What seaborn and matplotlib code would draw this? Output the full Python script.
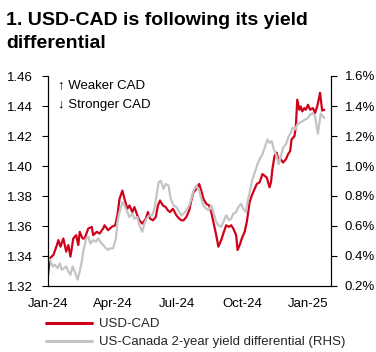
import matplotlib
matplotlib.use("Agg")
import matplotlib.pyplot as plt
import matplotlib.dates as mdates
from matplotlib.ticker import FuncFormatter
from matplotlib.lines import Line2D
import seaborn as sns
import pandas as pd

sns.set_style("white")
plt.rcParams['font.family'] = ['Liberation Sans', 'DejaVu Sans']

TITLE_1 = "1. USD-CAD is following its yield"
TITLE_2 = "differential"
FX_LABEL = "USD-CAD"
YD_LABEL = "US-Canada 2-year yield differential (RHS)"
NOTE_UP = "\u2191 Weaker CAD"
NOTE_DOWN = "\u2193 Stronger CAD"

fx_dates = ["2024-01-01", "2024-01-04", "2024-01-09", "2024-01-14", "2024-01-16", "2024-01-19",
            "2024-01-23", "2024-01-27", "2024-01-30", "2024-02-02", "2024-02-06", "2024-02-10",
            "2024-02-13", "2024-02-15", "2024-02-19", "2024-02-22", "2024-02-27", "2024-03-03",
            "2024-03-05", "2024-03-10", "2024-03-14", "2024-03-19", "2024-03-21", "2024-03-26",
            "2024-03-31", "2024-04-05", "2024-04-08", "2024-04-11", "2024-04-15", "2024-04-18",
            "2024-04-22", "2024-04-25", "2024-04-29", "2024-05-02", "2024-05-06", "2024-05-09",
            "2024-05-13", "2024-05-18", "2024-05-21", "2024-05-24", "2024-05-28", "2024-06-01",
            "2024-06-04", "2024-06-07", "2024-06-11", "2024-06-15", "2024-06-18", "2024-06-21",
            "2024-06-25", "2024-06-30", "2024-07-04", "2024-07-07", "2024-07-10", "2024-07-14",
            "2024-07-18", "2024-07-21", "2024-07-24", "2024-07-28", "2024-08-01", "2024-08-04",
            "2024-08-07", "2024-08-11", "2024-08-15", "2024-08-18", "2024-08-21", "2024-08-25",
            "2024-08-28", "2024-09-01", "2024-09-04", "2024-09-08", "2024-09-12", "2024-09-15",
            "2024-09-18", "2024-09-22", "2024-09-24", "2024-09-27", "2024-09-30", "2024-10-04",
            "2024-10-07", "2024-10-11", "2024-10-14", "2024-10-18", "2024-10-21", "2024-10-25",
            "2024-10-29", "2024-11-01", "2024-11-04", "2024-11-08", "2024-11-10", "2024-11-12",
            "2024-11-15", "2024-11-18", "2024-11-21", "2024-11-24", "2024-11-27", "2024-12-01",
            "2024-12-04", "2024-12-07", "2024-12-09", "2024-12-13", "2024-12-15", "2024-12-17",
            "2024-12-20", "2024-12-22", "2024-12-24", "2024-12-27", "2024-12-29", "2025-01-01",
            "2025-01-04", "2025-01-08", "2025-01-11", "2025-01-14", "2025-01-17", "2025-01-18",
            "2025-01-21", "2025-01-24"]
fx_values = [1.3253, 1.3385, 1.3407, 1.3473, 1.3506, 1.3462,
             1.3517, 1.3429, 1.3473, 1.3396, 1.3517, 1.3539,
             1.3473, 1.3561, 1.3517, 1.3517, 1.3583, 1.3594,
             1.3539, 1.3561, 1.3550, 1.3583, 1.3605, 1.3572,
             1.3594, 1.3605, 1.3671, 1.3781, 1.3836, 1.3781,
             1.3715, 1.3737, 1.3693, 1.3726, 1.3671, 1.3638,
             1.3616, 1.3649, 1.3693, 1.3649, 1.3638, 1.3660,
             1.3737, 1.3770, 1.3737, 1.3726, 1.3704, 1.3693,
             1.3715, 1.3671, 1.3649, 1.3638, 1.3638, 1.3660,
             1.3704, 1.3770, 1.3825, 1.3847, 1.3880, 1.3836,
             1.3781, 1.3748, 1.3737, 1.3693, 1.3627, 1.3539,
             1.3462, 1.3506, 1.3550, 1.3605, 1.3594, 1.3605,
             1.3583, 1.3539, 1.3440, 1.3473, 1.3517, 1.3561,
             1.3627, 1.3759, 1.3803, 1.3847, 1.3880, 1.3891,
             1.3946, 1.3935, 1.3924, 1.3858, 1.3891, 1.3979,
             1.4067, 1.4089, 1.4034, 1.4045, 1.4023, 1.4045,
             1.4078, 1.4100, 1.4177, 1.4199, 1.4265, 1.4442,
             1.4375, 1.4397, 1.4364, 1.4386, 1.4375, 1.4408,
             1.4375, 1.4386, 1.4353, 1.4397, 1.4463, 1.4488,
             1.4370, 1.4375]

yd_dates = ["2024-01-01", "2024-01-04", "2024-01-08", "2024-01-11", "2024-01-15", "2024-01-18",
            "2024-01-21", "2024-01-24", "2024-01-27", "2024-01-30", "2024-02-02", "2024-02-05",
            "2024-02-08", "2024-02-12", "2024-02-15", "2024-02-18", "2024-02-20", "2024-02-24",
            "2024-02-27", "2024-03-01", "2024-03-05", "2024-03-09", "2024-03-12", "2024-03-15",
            "2024-03-19", "2024-03-23", "2024-03-26", "2024-03-29", "2024-04-02", "2024-04-06",
            "2024-04-08", "2024-04-11", "2024-04-15", "2024-04-18", "2024-04-22", "2024-04-25",
            "2024-04-29", "2024-05-02", "2024-05-06", "2024-05-09", "2024-05-13", "2024-05-16",
            "2024-05-19", "2024-05-23", "2024-05-27", "2024-05-30", "2024-06-02", "2024-06-05",
            "2024-06-08", "2024-06-12", "2024-06-15", "2024-06-19", "2024-06-22", "2024-06-26",
            "2024-06-30", "2024-07-04", "2024-07-07", "2024-07-10", "2024-07-14", "2024-07-18",
            "2024-07-21", "2024-07-24", "2024-07-28", "2024-08-01", "2024-08-04", "2024-08-07",
            "2024-08-11", "2024-08-15", "2024-08-18", "2024-08-21", "2024-08-25", "2024-08-28",
            "2024-09-01", "2024-09-04", "2024-09-08", "2024-09-12", "2024-09-15", "2024-09-18",
            "2024-09-22", "2024-09-25", "2024-09-29", "2024-10-02", "2024-10-06", "2024-10-08",
            "2024-10-11", "2024-10-15", "2024-10-19", "2024-10-22", "2024-10-25", "2024-10-29",
            "2024-11-02", "2024-11-05", "2024-11-08", "2024-11-11", "2024-11-14", "2024-11-18",
            "2024-11-21", "2024-11-24", "2024-11-27", "2024-12-01", "2024-12-05", "2024-12-08",
            "2024-12-10", "2024-12-14", "2024-12-17", "2024-12-20", "2024-12-24", "2024-12-28",
            "2025-01-01", "2025-01-04", "2025-01-08", "2025-01-11", "2025-01-15", "2025-01-19",
            "2025-01-24"]
yd_values = [0.385, 0.374, 0.330, 0.341, 0.319, 0.352,
             0.308, 0.319, 0.330, 0.297, 0.275, 0.330,
             0.297, 0.242, 0.297, 0.363, 0.429, 0.517,
             0.528, 0.484, 0.506, 0.495, 0.517, 0.495,
             0.473, 0.451, 0.440, 0.451, 0.451, 0.517,
             0.627, 0.693, 0.759, 0.737, 0.693, 0.660,
             0.682, 0.649, 0.660, 0.605, 0.561, 0.616,
             0.649, 0.671, 0.671, 0.715, 0.803, 0.891,
             0.902, 0.847, 0.880, 0.869, 0.781, 0.737,
             0.726, 0.693, 0.671, 0.682, 0.704, 0.737,
             0.781, 0.836, 0.869, 0.836, 0.781, 0.737,
             0.715, 0.704, 0.737, 0.693, 0.627, 0.605,
             0.594, 0.627, 0.671, 0.638, 0.649, 0.682,
             0.693, 0.726, 0.748, 0.715, 0.693, 0.759,
             0.825, 0.913, 0.968, 1.012, 1.045, 1.078,
             1.133, 1.177, 1.155, 1.166, 1.111, 1.067,
             1.012, 1.067, 1.122, 1.144, 1.199, 1.221,
             1.254, 1.243, 1.276, 1.287, 1.298, 1.309,
             1.320, 1.342, 1.353, 1.331, 1.215, 1.350,
             1.320]

left_ticks = [1.32, 1.34, 1.36, 1.38, 1.40, 1.42, 1.44, 1.46]
right_ticks = [0.2, 0.4, 0.6, 0.8, 1.0, 1.2, 1.4, 1.6]
x_start, x_end = "2024-01-01", "2025-02-02"

RED = "#d0021b"
GREY = "#c4c4c4"
W, H = 376, 352

fx = pd.DataFrame({"date": pd.to_datetime(fx_dates), "value": fx_values})
yd = pd.DataFrame({"date": pd.to_datetime(yd_dates), "value": yd_values})

fig = plt.figure(figsize=(W / 100, H / 100), dpi=100)
ax = fig.add_axes([47.7 / W, 1 - 286 / H, (330.7 - 47.7) / W, (286 - 76) / H])
ax2 = ax.twinx()

sns.lineplot(data=fx, x="date", y="value", ax=ax, color=RED, linewidth=1.6)
sns.lineplot(data=yd, x="date", y="value", ax=ax2, color=GREY, linewidth=1.6)

ax.set_xlim(pd.Timestamp(x_start), pd.Timestamp(x_end))
ax.set_ylim(left_ticks[0], left_ticks[-1])
ax2.set_ylim(right_ticks[0], right_ticks[-1])
ax.set_yticks(left_ticks)
ax2.set_yticks(right_ticks)
ax.yaxis.set_major_formatter(FuncFormatter(lambda v, p: f"{v:.2f}"))
ax2.yaxis.set_major_formatter(FuncFormatter(lambda v, p: f"{v:.1f}%"))

ax.xaxis.set_major_locator(mdates.MonthLocator(bymonth=[1, 4, 7, 10]))
ax.xaxis.set_minor_locator(mdates.MonthLocator())
ax.xaxis.set_major_formatter(mdates.DateFormatter("%b-%y"))

for a in (ax, ax2):
    a.set_xlabel("")
    a.set_ylabel("")
    a.spines["top"].set_visible(False)
    for s in ("left", "right", "bottom"):
        a.spines[s].set_color("black")
        a.spines[s].set_linewidth(0.8)

ax.tick_params(axis="x", which="major", direction="inout", length=9, width=0.8,
               labelsize=9.5, pad=4, colors="black")
ax.tick_params(axis="x", which="minor", direction="in", length=4.5, width=0.8)
ax.tick_params(axis="y", direction="out", length=4, width=0.8, labelsize=9.5, pad=7,
               left=True, colors="black")
ax2.tick_params(axis="y", direction="out", length=4, width=0.8, labelsize=9.5, pad=6,
                right=True, colors="black")

ax.text(10 / 283, 1 - 9 / 210, NOTE_UP, transform=ax.transAxes, ha="left", va="center",
        fontsize=9.5, color="black")
ax.text(10 / 283, 1 - 29 / 210, NOTE_DOWN, transform=ax.transAxes, ha="left", va="center",
        fontsize=9.5, color="black")

fig.text(6 / W, 1 - 25 / H, TITLE_1, ha="left", va="baseline", fontsize=14,
         fontweight="bold", color="black")
fig.text(6 / W, 1 - 48 / H, TITLE_2, ha="left", va="baseline", fontsize=14,
         fontweight="bold", color="black")

handles = [Line2D([], [], color=RED, linewidth=2.2),
           Line2D([], [], color=GREY, linewidth=2.2)]
fig.legend(handles, [FX_LABEL, YD_LABEL], loc="upper left",
           bbox_to_anchor=(46 / W, 1 - 318 / H), frameon=False, fontsize=9.5,
           handlelength=3.5, handletextpad=0.5, labelspacing=0.45,
           borderpad=0, borderaxespad=0)

fig.savefig("out.png", dpi=100)
